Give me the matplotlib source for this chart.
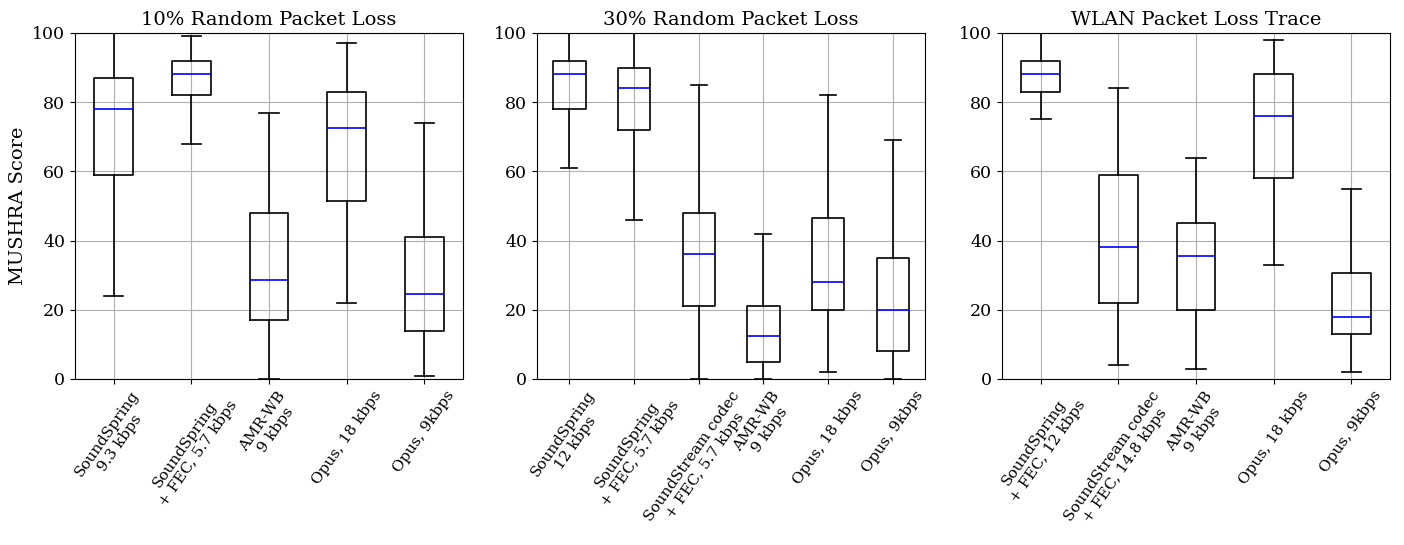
import matplotlib
matplotlib.use('Agg')
import matplotlib.pyplot as plt

plt.rcParams['font.family'] = 'DejaVu Serif'

titles = ['10% Random Packet Loss', '30% Random Packet Loss', 'WLAN Packet Loss Trace']

labels_10 = ['SoundSpring\n9.3 kbps', 'SoundSpring\n+ FEC, 5.7 kbps', 'AMR-WB\n9 kbps',
             'Opus, 18 kbps', 'Opus, 9kbps']
whislo_10 = [24, 68, 0, 22, 1]
q1_10 = [59, 82, 17, 51.5, 14]
med_10 = [78, 88, 28.5, 72.5, 24.5]
q3_10 = [87, 92, 48, 83, 41]
whishi_10 = [100, 99, 77, 97, 74]

labels_30 = ['SoundSpring\n12 kbps', 'SoundSpring\n+ FEC, 5.7 kbps', 'SoundStream codec\n+ FEC, 5.7 kbps',
             'AMR-WB\n9 kbps', 'Opus, 18 kbps', 'Opus, 9kbps']
whislo_30 = [61, 46, 0, 0, 2, 0]
q1_30 = [78, 72, 21, 5, 20, 8]
med_30 = [88, 84, 36, 12.5, 28, 20]
q3_30 = [92, 90, 48, 21, 46.5, 35]
whishi_30 = [100, 100, 85, 42, 82, 69]

labels_wlan = ['SoundSpring\n+ FEC, 12 kbps', 'SoundStream codec\n+ FEC, 14.8 kbps', 'AMR-WB\n9 kbps',
               'Opus, 18 kbps', 'Opus, 9kbps']
whislo_wlan = [75, 4, 3, 33, 2]
q1_wlan = [83, 22, 20, 58, 13]
med_wlan = [88, 38, 35.5, 76, 18]
q3_wlan = [92, 59, 45, 88, 30.5]
whishi_wlan = [100, 84, 64, 98, 55]

panels = [
    (labels_10, whislo_10, q1_10, med_10, q3_10, whishi_10),
    (labels_30, whislo_30, q1_30, med_30, q3_30, whishi_30),
    (labels_wlan, whislo_wlan, q1_wlan, med_wlan, q3_wlan, whishi_wlan),
]

fig = plt.figure(figsize=(14.04, 5.45), dpi=100)
lefts = [0.0534, 0.3825, 0.7137]

for i, (labels, lo, q1, med, q3, hi) in enumerate(panels):
    ax = fig.add_axes([lefts[i], 0.3046, 0.2764, 0.635])
    stats = []
    for j in range(len(labels)):
        stats.append({'whislo': lo[j], 'q1': q1[j], 'med': med[j], 'q3': q3[j],
                      'whishi': hi[j], 'fliers': [], 'label': labels[j]})
    ax.bxp(stats, showfliers=False,
           medianprops=dict(color='blue', linewidth=1.2),
           boxprops=dict(color='black', linewidth=1.2),
           whiskerprops=dict(color='black', linewidth=1.2),
           capprops=dict(color='black', linewidth=1.2))
    ax.set_ylim(0, 100)
    ax.grid(True, color='#b0b0b0', linewidth=0.8)
    ax.set_axisbelow(True)
    ax.set_title(titles[i], fontsize=14)
    ax.tick_params(axis='y', labelsize=12.5)
    ax.tick_params(axis='x', labelsize=11)
    for t in ax.get_xticklabels():
        t.set_rotation(55)
        t.set_ha('center')
    if i == 0:
        ax.set_ylabel('MUSHRA Score', fontsize=14)

fig.savefig('out.png', dpi=100, facecolor='white')
